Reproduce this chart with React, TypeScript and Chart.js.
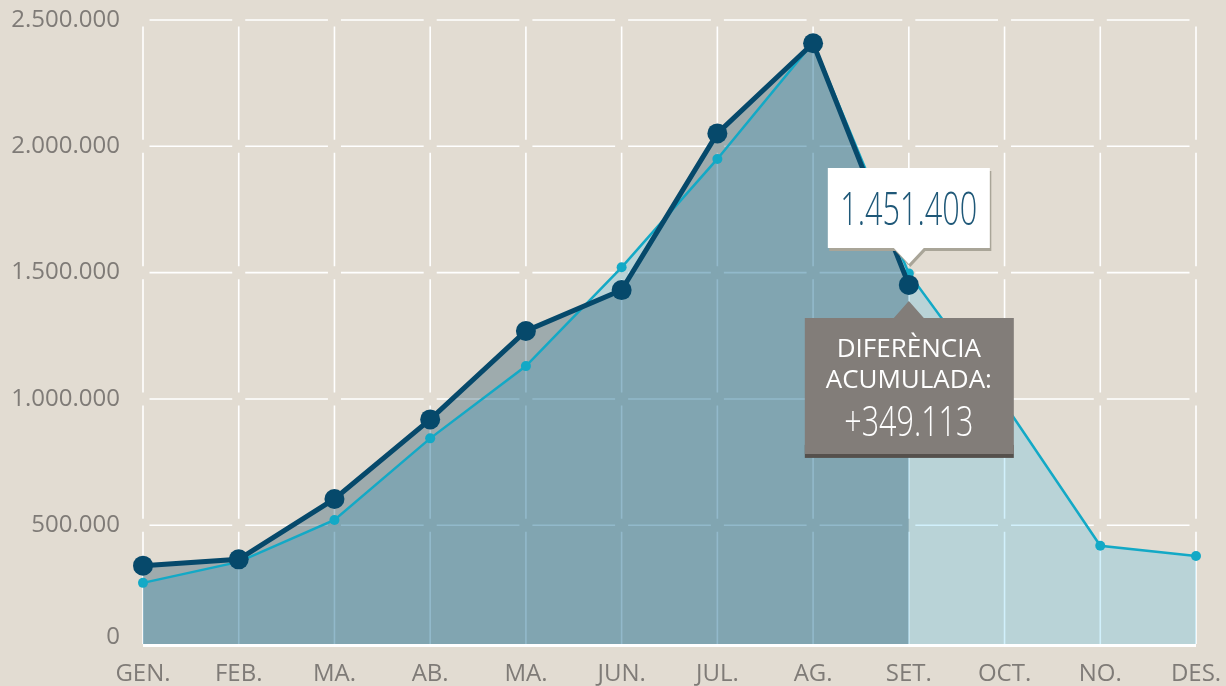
import React, { useEffect, useRef } from 'react';
import { Chart, registerables } from 'chart.js';

Chart.register(...registerables);

// ---------- data ----------
const months = ['GEN.', 'FEB.', 'MA.', 'AB.', 'MA.', 'JUN.', 'JUL.', 'AG.', 'SET.', 'OCT.', 'NO.', 'DES.'];
const currentYear = [340000, 365000, 604000, 919000, 1269000, 1431000, 2051000, 2408000, 1451400];
const previousYear = [272000, 355000, 521000, 844000, 1130000, 1521000, 1950000, 2410000, 1497000, 980000, 419000, 378000];
const yTickValues = [500000, 1000000, 1500000, 2000000, 2500000];
const yMin = 30000;
const yMax = 2500000;
const highlightIndex = 8;
const diffTitle = ['DIFERÈNCIA', 'ACUMULADA:'];
const diffValue = '+349.113';

// ---------- style ----------
const BG = '#e2dcd2';
const DARK = '#06496b';
const CYAN = '#13a9c6';
const TICK = '#7f7b77';
const FONT = '"Open Sans", "Noto Sans", sans-serif';

const fmt = (v: number) => String(Math.round(v)).replace(/\B(?=(\d{3})+(?!\d))/g, '.');

function drawCondensed(ctx: CanvasRenderingContext2D, text: string, cx: number, baseY: number, font: string, color: string, targetWidth: number) {
  ctx.save();
  ctx.font = font;
  const w = ctx.measureText(text).width;
  const s = targetWidth / w;
  ctx.translate(cx, baseY);
  ctx.scale(s, 1);
  ctx.textAlign = 'center';
  ctx.textBaseline = 'alphabetic';
  ctx.fillStyle = color;
  ctx.fillText(text, 0, 0);
  ctx.restore();
}

const zeroPadding = (s: any) => {
  s.paddingTop = 0;
  s.paddingBottom = 0;
  s.paddingLeft = 0;
  s.paddingRight = 0;
};

const decor = {
  id: 'decor',
  beforeDraw(chart: any) {
    const { ctx, scales } = chart;
    const xs = months.map((_, i) => scales.x.getPixelForValue(i));
    const ys = [yMin, ...yTickValues].map((v) => scales.y.getPixelForValue(v));
    ctx.save();
    ctx.fillStyle = BG;
    ctx.fillRect(0, 0, chart.width, chart.height);
    ctx.strokeStyle = '#ffffff';
    ctx.lineWidth = 1.6;
    const g = 6.5;
    ctx.beginPath();
    for (let j = 1; j < ys.length; j++) {
      const yy = ys[j];
      for (let i = 0; i < xs.length - 1; i++) {
        ctx.moveTo(xs[i] + g, yy);
        ctx.lineTo(xs[i + 1] - g, yy);
      }
    }
    for (const xx of xs) {
      for (let j = 0; j < ys.length - 1; j++) {
        const yb = ys[j];
        const yt = ys[j + 1];
        ctx.moveTo(xx, yt + g);
        ctx.lineTo(xx, j === 0 ? yb : yb - g);
      }
    }
    ctx.stroke();
    ctx.restore();
  },
  afterDatasetsDraw(chart: any) {
    const { ctx, chartArea: a } = chart;
    ctx.save();
    ctx.strokeStyle = '#ffffff';
    ctx.lineWidth = 3;
    ctx.beginPath();
    ctx.moveTo(a.left, a.bottom + 1.5);
    ctx.lineTo(a.right, a.bottom + 1.5);
    ctx.stroke();
    ctx.restore();
  },
  afterDraw(chart: any) {
    const { ctx, chartArea: a } = chart;
    const pt = chart.getDatasetMeta(0).data[highlightIndex];
    const x = pt.x;
    const y = pt.y;
    ctx.save();

    // "0" label of the baseline
    ctx.font = `24px ${FONT}`;
    ctx.fillStyle = TICK;
    ctx.textAlign = 'right';
    ctx.textBaseline = 'middle';
    ctx.fillText('0', a.left - 23, a.bottom - 7);

    // value callout (white)
    const callout = (dx: number, dy: number, color: string) => {
      ctx.fillStyle = color;
      ctx.beginPath();
      ctx.moveTo(x - 81 + dx, y - 117 + dy);
      ctx.lineTo(x + 81 + dx, y - 117 + dy);
      ctx.lineTo(x + 81 + dx, y - 37 + dy);
      ctx.lineTo(x + 15 + dx, y - 37 + dy);
      ctx.lineTo(x + dx, y - 21 + dy);
      ctx.lineTo(x - 15 + dx, y - 37 + dy);
      ctx.lineTo(x - 81 + dx, y - 37 + dy);
      ctx.closePath();
      ctx.fill();
    };
    callout(1.5, 3, '#a9a598');
    callout(0, 0, '#ffffff');
    drawCondensed(ctx, fmt(currentYear[highlightIndex]), x, y - 60, `300 46px ${FONT}`, '#1f5878', 137);

    // difference box (grey)
    ctx.fillStyle = '#55504c';
    ctx.fillRect(x - 104, y + 160, 209, 13);
    ctx.fillStyle = '#827d79';
    ctx.beginPath();
    ctx.moveTo(x - 104, y + 33);
    ctx.lineTo(x - 15, y + 33);
    ctx.lineTo(x, y + 16);
    ctx.lineTo(x + 15, y + 33);
    ctx.lineTo(x + 105, y + 33);
    ctx.lineTo(x + 105, y + 169);
    ctx.lineTo(x - 104, y + 169);
    ctx.closePath();
    ctx.fill();
    ctx.fillStyle = '#ffffff';
    ctx.textAlign = 'center';
    ctx.textBaseline = 'alphabetic';
    ctx.font = `26px ${FONT}`;
    ctx.fillText(diffTitle[0], x, y + 72.5);
    ctx.fillText(diffTitle[1], x, y + 103.5);
    drawCondensed(ctx, diffValue, x, y + 151.5, `300 43px ${FONT}`, '#ffffff', 129);
    ctx.restore();
  },
};

export default function App() {
  const ref = useRef<HTMLCanvasElement | null>(null);

  useEffect(() => {
    document.body.style.margin = '0';
    const canvas = ref.current;
    if (!canvas) return;
    const chart = new Chart(canvas, {
      type: 'line',
      data: {
        labels: months,
        datasets: [
          {
            label: 'current',
            data: currentYear,
            borderColor: DARK,
            borderWidth: 5,
            backgroundColor: 'rgba(0, 60, 90, 0.30)',
            fill: 'start',
            pointRadius: 10,
            pointBackgroundColor: DARK,
            pointBorderWidth: 0,
            tension: 0,
            clip: false as any,
          },
          {
            label: 'previous',
            data: previousYear,
            borderColor: CYAN,
            borderWidth: 2.5,
            backgroundColor: 'rgba(0, 170, 240, 0.18)',
            fill: 'start',
            pointRadius: 5,
            pointBackgroundColor: CYAN,
            pointBorderWidth: 0,
            tension: 0,
            clip: false as any,
          },
        ],
      },
      options: {
        animation: false,
        responsive: true,
        maintainAspectRatio: false,
        events: [],
        layout: { padding: { top: 20, right: 30, left: 0, bottom: 0 } },
        plugins: {
          legend: { display: false },
          tooltip: { enabled: false },
          filler: { drawTime: 'beforeDatasetsDraw' } as any,
        },
        scales: {
          x: {
            type: 'category',
            offset: false,
            grid: { display: false, drawTicks: false },
            border: { display: false },
            ticks: {
              color: TICK,
              font: { family: FONT, size: 24 },
              padding: 16,
              maxRotation: 0,
              autoSkip: false,
            },
            afterFit: (s: any) => {
              s.height = 42;
              zeroPadding(s);
            },
          },
          y: {
            type: 'linear',
            min: yMin,
            max: yMax,
            grid: { display: false, drawTicks: false },
            border: { display: false },
            afterBuildTicks: (s: any) => {
              s.ticks = [yMin, ...yTickValues].map((v) => ({ value: v }));
            },
            ticks: {
              color: TICK,
              font: { family: FONT, size: 24 },
              padding: 23,
              callback: (v: any) => (Number(v) <= yMin ? '' : fmt(Number(v))),
            },
            afterFit: (s: any) => {
              s.width = 143;
              zeroPadding(s);
            },
          },
        },
      },
      plugins: [decor],
    });
    return () => chart.destroy();
  }, []);

  return (
    <div style={{ position: 'fixed', left: 0, top: 0, width: 1226, height: 686, background: BG }}>
      <canvas ref={ref} />
    </div>
  );
}
